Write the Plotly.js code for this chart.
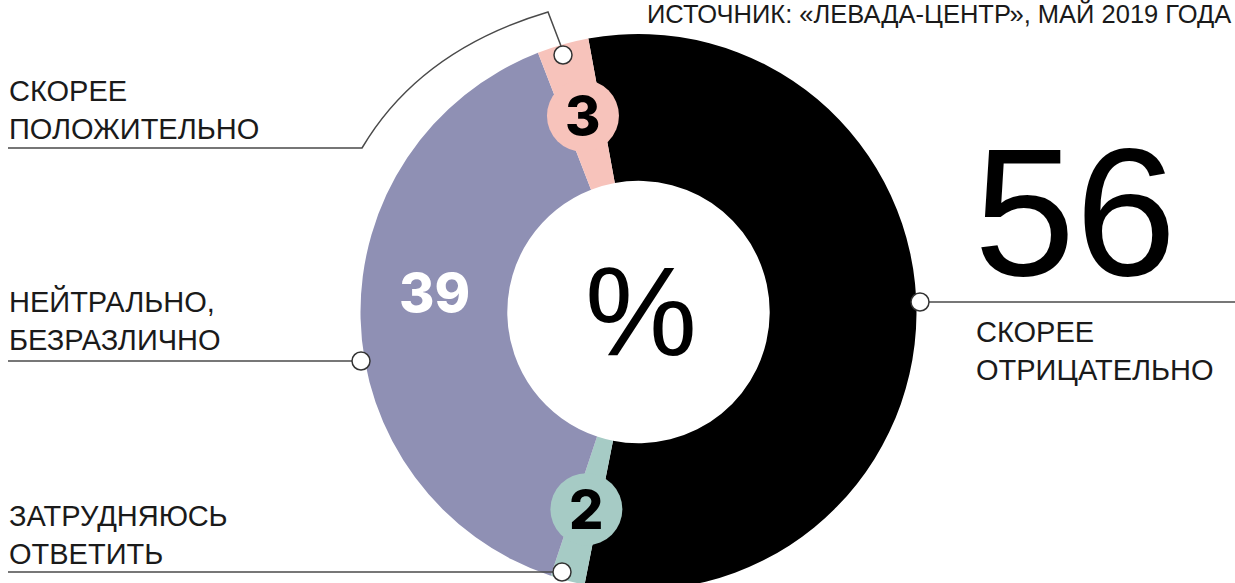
<!DOCTYPE html>
<html>
<head>
<meta charset="utf-8">
<script src="https://cdn.plot.ly/plotly-3.0.1.min.js"></script>
<style>
html,body{margin:0;padding:0;overflow:hidden;background:#fff;}
#chart{width:1235px;height:600px;}
</style>
</head>
<body>
<div id="chart"></div>
<script>
// ---- data ----
const categories = ['СКОРЕЕ<br>ОТРИЦАТЕЛЬНО', 'ЗАТРУДНЯЮСЬ<br>ОТВЕТИТЬ', 'НЕЙТРАЛЬНО,<br>БЕЗРАЗЛИЧНО', 'СКОРЕЕ<br>ПОЛОЖИТЕЛЬНО'];
const values = [56, 2, 39, 3];
const sliceColors = ['#000000', '#a6cbc5', '#8f90b4', '#f7c3bb'];
const valueTextColors = ['#000000', '#000000', '#ffffff', '#000000'];
const sourceText = 'ИСТОЧНИК: «ЛЕВАДА-ЦЕНТР», МАЙ 2019 ГОДА';
const unitText = '%';

// ---- geometry (pixels) ----
const W = 1235, H = 600;
const cx = 638.5, cy = 312, R = 278, holeFrac = 0.472;
const startAngle = -10.4;
const labelR = 204;

const total = values.reduce((a, b) => a + b, 0);
const pie = {
  type: 'pie',
  values: values,
  labels: categories,
  marker: {colors: sliceColors, line: {width: 0}},
  sort: false,
  direction: 'clockwise',
  rotation: startAngle,
  hole: holeFrac,
  textinfo: 'none',
  hoverinfo: 'skip',
  domain: {x: [(cx - R) / W, (cx + R) / W], y: [(H - cy - R) / H, (H - cy + R) / H]}
};
const dummy = {type: 'scatter', x: [], y: [], hoverinfo: 'skip', showlegend: false};

const shapes = [];
const annotations = [];
const lineStyle = {color: '#4a4a4a', width: 1.5};
const textFont = {family: 'Liberation Sans, Arial, sans-serif', size: 29, color: '#1a1a1a'};

// inside value labels, positioned at slice mid-angles
let cum = 0;
values.forEach((v, i) => {
  const mid = startAngle + (cum + v / 2) / total * 360;
  cum += v;
  if (i === 0) return;
  const a = mid * Math.PI / 180;
  const x = cx + labelR * Math.sin(a);
  const y = cy - labelR * Math.cos(a);
  if (v < 5) {
    const br = 36;
    shapes.push({type: 'circle', xref: 'x', yref: 'y', x0: x - br, x1: x + br, y0: y - br, y1: y + br,
      fillcolor: sliceColors[i], line: {width: 0}, layer: 'above'});
  }
  annotations.push({xref: 'x', yref: 'y', x: x, y: y, text: String(v), showarrow: false,
    xanchor: 'center', yanchor: 'middle', yshift: v > 20 ? 24 : 0,
    font: {family: 'Inter, Roboto, sans-serif', size: 54, weight: 800, color: valueTextColors[i]}});
});

// big value of first slice
annotations.push({xref: 'x', yref: 'y', x: 972, y: 212, text: String(values[0]), showarrow: false,
  xanchor: 'left', yanchor: 'middle',
  font: {family: 'Liberation Sans, Arial, sans-serif', size: 182, color: '#000'}});
// center unit
annotations.push({xref: 'x', yref: 'y', x: 641, y: 311, text: unitText, showarrow: false,
  xanchor: 'center', yanchor: 'middle',
  font: {family: 'Liberation Sans, Arial, sans-serif', size: 126, color: '#000'}});
// source
annotations.push({xref: 'x', yref: 'y', x: 645, y: 13.5, text: sourceText, showarrow: false,
  xanchor: 'left', yanchor: 'middle', font: {family: 'Liberation Sans, Arial, sans-serif', size: 25.5, color: '#1a1a1a'}});

// category labels
const labelPos = [
  {x: 974, y: 351},   // negative
  {x: 7, y: 535},     // difficult
  {x: 7, y: 320},     // neutral
  {x: 7, y: 110}      // positive
];
categories.forEach((c, i) => {
  annotations.push({xref: 'x', yref: 'y', x: labelPos[i].x, y: labelPos[i].y, text: c, showarrow: false,
    xanchor: 'left', yanchor: 'middle', align: 'left', font: textFont});
});

// leader lines
shapes.push({type: 'path', xref: 'x', yref: 'y', path: 'M 8 148 L 362 148 Q 420 50 548 12 L 561 46', line: lineStyle, layer: 'above'});
shapes.push({type: 'line', xref: 'x', yref: 'y', x0: 8, x1: 352, y0: 361, y1: 361, line: lineStyle, layer: 'above'});
shapes.push({type: 'line', xref: 'x', yref: 'y', x0: 8, x1: 553, y0: 572, y1: 572, line: lineStyle, layer: 'above'});
shapes.push({type: 'line', xref: 'x', yref: 'y', x0: 929, x1: 1235, y0: 302, y1: 302, line: lineStyle, layer: 'above'});
// end dots
[[563, 55], [361, 361], [562, 572], [920, 302]].forEach(p => {
  const r = 9;
  shapes.push({type: 'circle', xref: 'x', yref: 'y', x0: p[0] - r, x1: p[0] + r, y0: p[1] - r, y1: p[1] + r,
    fillcolor: '#ffffff', line: {color: '#333', width: 1.5}, layer: 'above'});
});

const layout = {
  width: W, height: H,
  margin: {l: 0, r: 0, t: 0, b: 0, pad: 0},
  paper_bgcolor: '#fff', plot_bgcolor: 'rgba(0,0,0,0)',
  showlegend: false,
  xaxis: {range: [0, W], visible: false, fixedrange: true},
  yaxis: {range: [H, 0], visible: false, fixedrange: true},
  shapes: shapes,
  annotations: annotations
};
Plotly.newPlot('chart', [pie, dummy], layout, {staticPlot: true, displayModeBar: false});
</script>
</body>
</html>
